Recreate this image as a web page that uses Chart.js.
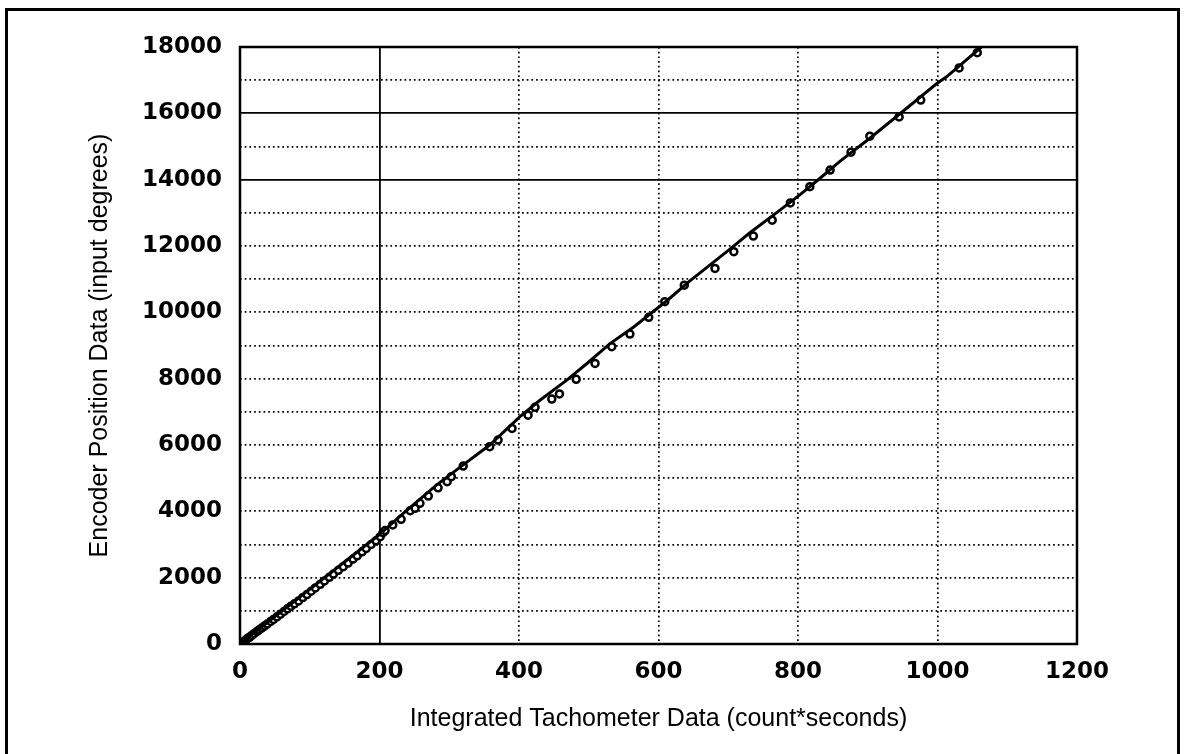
<!DOCTYPE html>
<html>
<head>
<meta charset="utf-8">
<script src="https://cdn.jsdelivr.net/npm/chart.js@4.4.0/dist/chart.umd.min.js"></script>
<style>
  html, body { margin: 0; padding: 0; background: #fff; overflow: hidden; }
  #wrap { position: relative; width: 1187px; height: 754px; }
  #frame { position: absolute; left: 5px; top: 8px; width: 1175px; height: 900px;
           border: 3px solid #000; box-sizing: border-box; pointer-events: none; }
  canvas { position: absolute; left: 0; top: 0; }
</style>
</head>
<body>
<div id="wrap">
  <div id="frame"></div>
  <canvas id="graph" width="1187" height="754"></canvas>
</div>
<script>
// donnees :
const tachoX = [2, 5, 8, 11, 14, 17, 20, 24, 27, 31, 35, 39, 44, 48, 53, 58, 63, 68, 73, 78,
  84, 90, 96, 102, 108, 115, 121, 128, 134, 141, 148, 155, 162, 168, 175, 181, 188, 195, 201, 205,
  208, 219, 231, 244, 251, 258, 270, 284, 297, 303, 320, 358, 370, 390,
  413, 423, 447, 458, 482, 509, 533, 559, 586, 609,
  637, 681, 708, 736, 763, 789, 817, 846,
  876, 903, 945, 976, 1031, 1057];
const encoderY = [20, 70, 120, 170, 210, 260, 310, 370, 420, 480, 540, 600, 680, 740, 820, 900, 980, 1060, 1140, 1210,
  1300, 1400, 1490, 1590, 1690, 1800, 1900, 2010, 2110, 2220, 2330, 2440, 2560, 2660, 2780, 2880, 3000, 3110, 3235, 3355,
  3420, 3590, 3760, 4020, 4090, 4240, 4460, 4710, 4895, 5045, 5365, 5950, 6150, 6500,
  6900, 7135, 7385, 7540, 7980, 8460, 8965, 9345, 9850, 10320,
  10820, 11325, 11830, 12300, 12780, 13300, 13790, 14290,
  14830, 15310, 15890, 16400, 17370, 17830];

// courbe continue :
const courbeX = [0, 100, 200, 232, 282, 320, 358, 401, 430, 468, 497, 530, 564, 612,
  645, 669, 702, 731, 769, 803, 832, 860, 903, 944, 999, 1013, 1063];
const courbeY = [0, 1650, 3300, 3900, 4800, 5400, 6000, 6850, 7350, 7950, 8450, 9050, 9550, 10350,
  10950, 11350, 11900, 12400, 13000, 13550, 14050, 14550, 15250, 15950, 16900, 17100, 18000];

// graduations :
const xTicks = [0, 200, 400, 600, 800, 1000, 1200];
const yLabelled = [0, 2000, 4000, 6000, 8000, 10000, 12000, 14000, 16000, 18000];
const ySolid = [14000, 16000];
const xSolid = [200];

const points = tachoX.map((x, i) => ({ x: x, y: encoderY[i] }));
const courbe = courbeX.map((x, i) => ({ x: x, y: courbeY[i] }));

const tickFont = { family: "'DejaVu Sans', sans-serif", size: 23, weight: 'bold' };
const titleFont = { family: "'Liberation Sans', Arial, sans-serif", size: 25, weight: 'normal' };

// cadre de la zone du graphique :
const cadre = {
  id: 'cadre',
  afterDraw(chart) {
    const a = chart.chartArea;
    const ctx = chart.ctx;
    ctx.save();
    ctx.strokeStyle = '#000';
    ctx.lineWidth = 2.5;
    ctx.strokeRect(a.left, a.top, a.right - a.left, a.bottom - a.top);
    ctx.restore();
  }
};

const ctx = document.getElementById('graph').getContext('2d');
const graph = new Chart(ctx, {
  type: 'scatter',
  data: {
    datasets: [
      {
        label: 'courbe',
        data: courbe,
        showLine: true,
        borderColor: '#000',
        borderWidth: 3,
        pointRadius: 0,
        tension: 0
      },
      {
        label: 'mesures',
        data: points,
        showLine: false,
        pointRadius: 3.5,
        pointBorderWidth: 2.5,
        borderColor: '#000',
        backgroundColor: '#fff'
      }
    ]
  },
  options: {
    responsive: false,
    animation: false,
    layout: { padding: { top: 47, right: 110, left: 0, bottom: 0 } },
    plugins: { legend: { display: false }, tooltip: { enabled: false } },
    scales: {
      x: {
        type: 'linear',
        min: 0,
        max: 1200,
        afterFit: (scale) => { scale.height = 110; },
        afterBuildTicks: (scale) => { scale.ticks = xTicks.map(v => ({ value: v })); },
        ticks: { color: '#000', font: tickFont, padding: 14, maxRotation: 0,
          callback: (v) => String(v) },
        grid: {
          drawTicks: false,
          color: '#000',
          lineWidth: (c) => xSolid.includes(c.tick && c.tick.value) ? 1.8 : 1.7
        },
        border: {
          display: false,
          dash: (c) => (c.tick && xSolid.includes(c.tick.value)) ? [] : [1.7, 3]
        },
        title: {
          display: true,
          text: 'Integrated Tachometer Data (count*seconds)',
          color: '#000',
          font: titleFont,
          padding: { top: 0, bottom: 20 }
        }
      },
      y: {
        type: 'linear',
        min: 0,
        max: 18000,
        afterFit: (scale) => { scale.width = 240; },
        ticks: {
          stepSize: 1000,
          color: '#000',
          font: tickFont,
          padding: 18,
          callback: (v) => yLabelled.includes(v) ? String(v) : ''
        },
        grid: {
          drawTicks: false,
          color: '#000',
          lineWidth: (c) => ySolid.includes(c.tick && c.tick.value) ? 1.8 : 1.7
        },
        border: {
          display: false,
          dash: (c) => (c.tick && ySolid.includes(c.tick.value)) ? [] : [1.7, 3]
        },
        title: {
          display: true,
          text: 'Encoder Position Data (input degrees)',
          color: '#000',
          font: titleFont,
          padding: { top: 85, bottom: 0 }
        }
      }
    }
  },
  plugins: [cadre]
});
</script>
</body>
</html>
